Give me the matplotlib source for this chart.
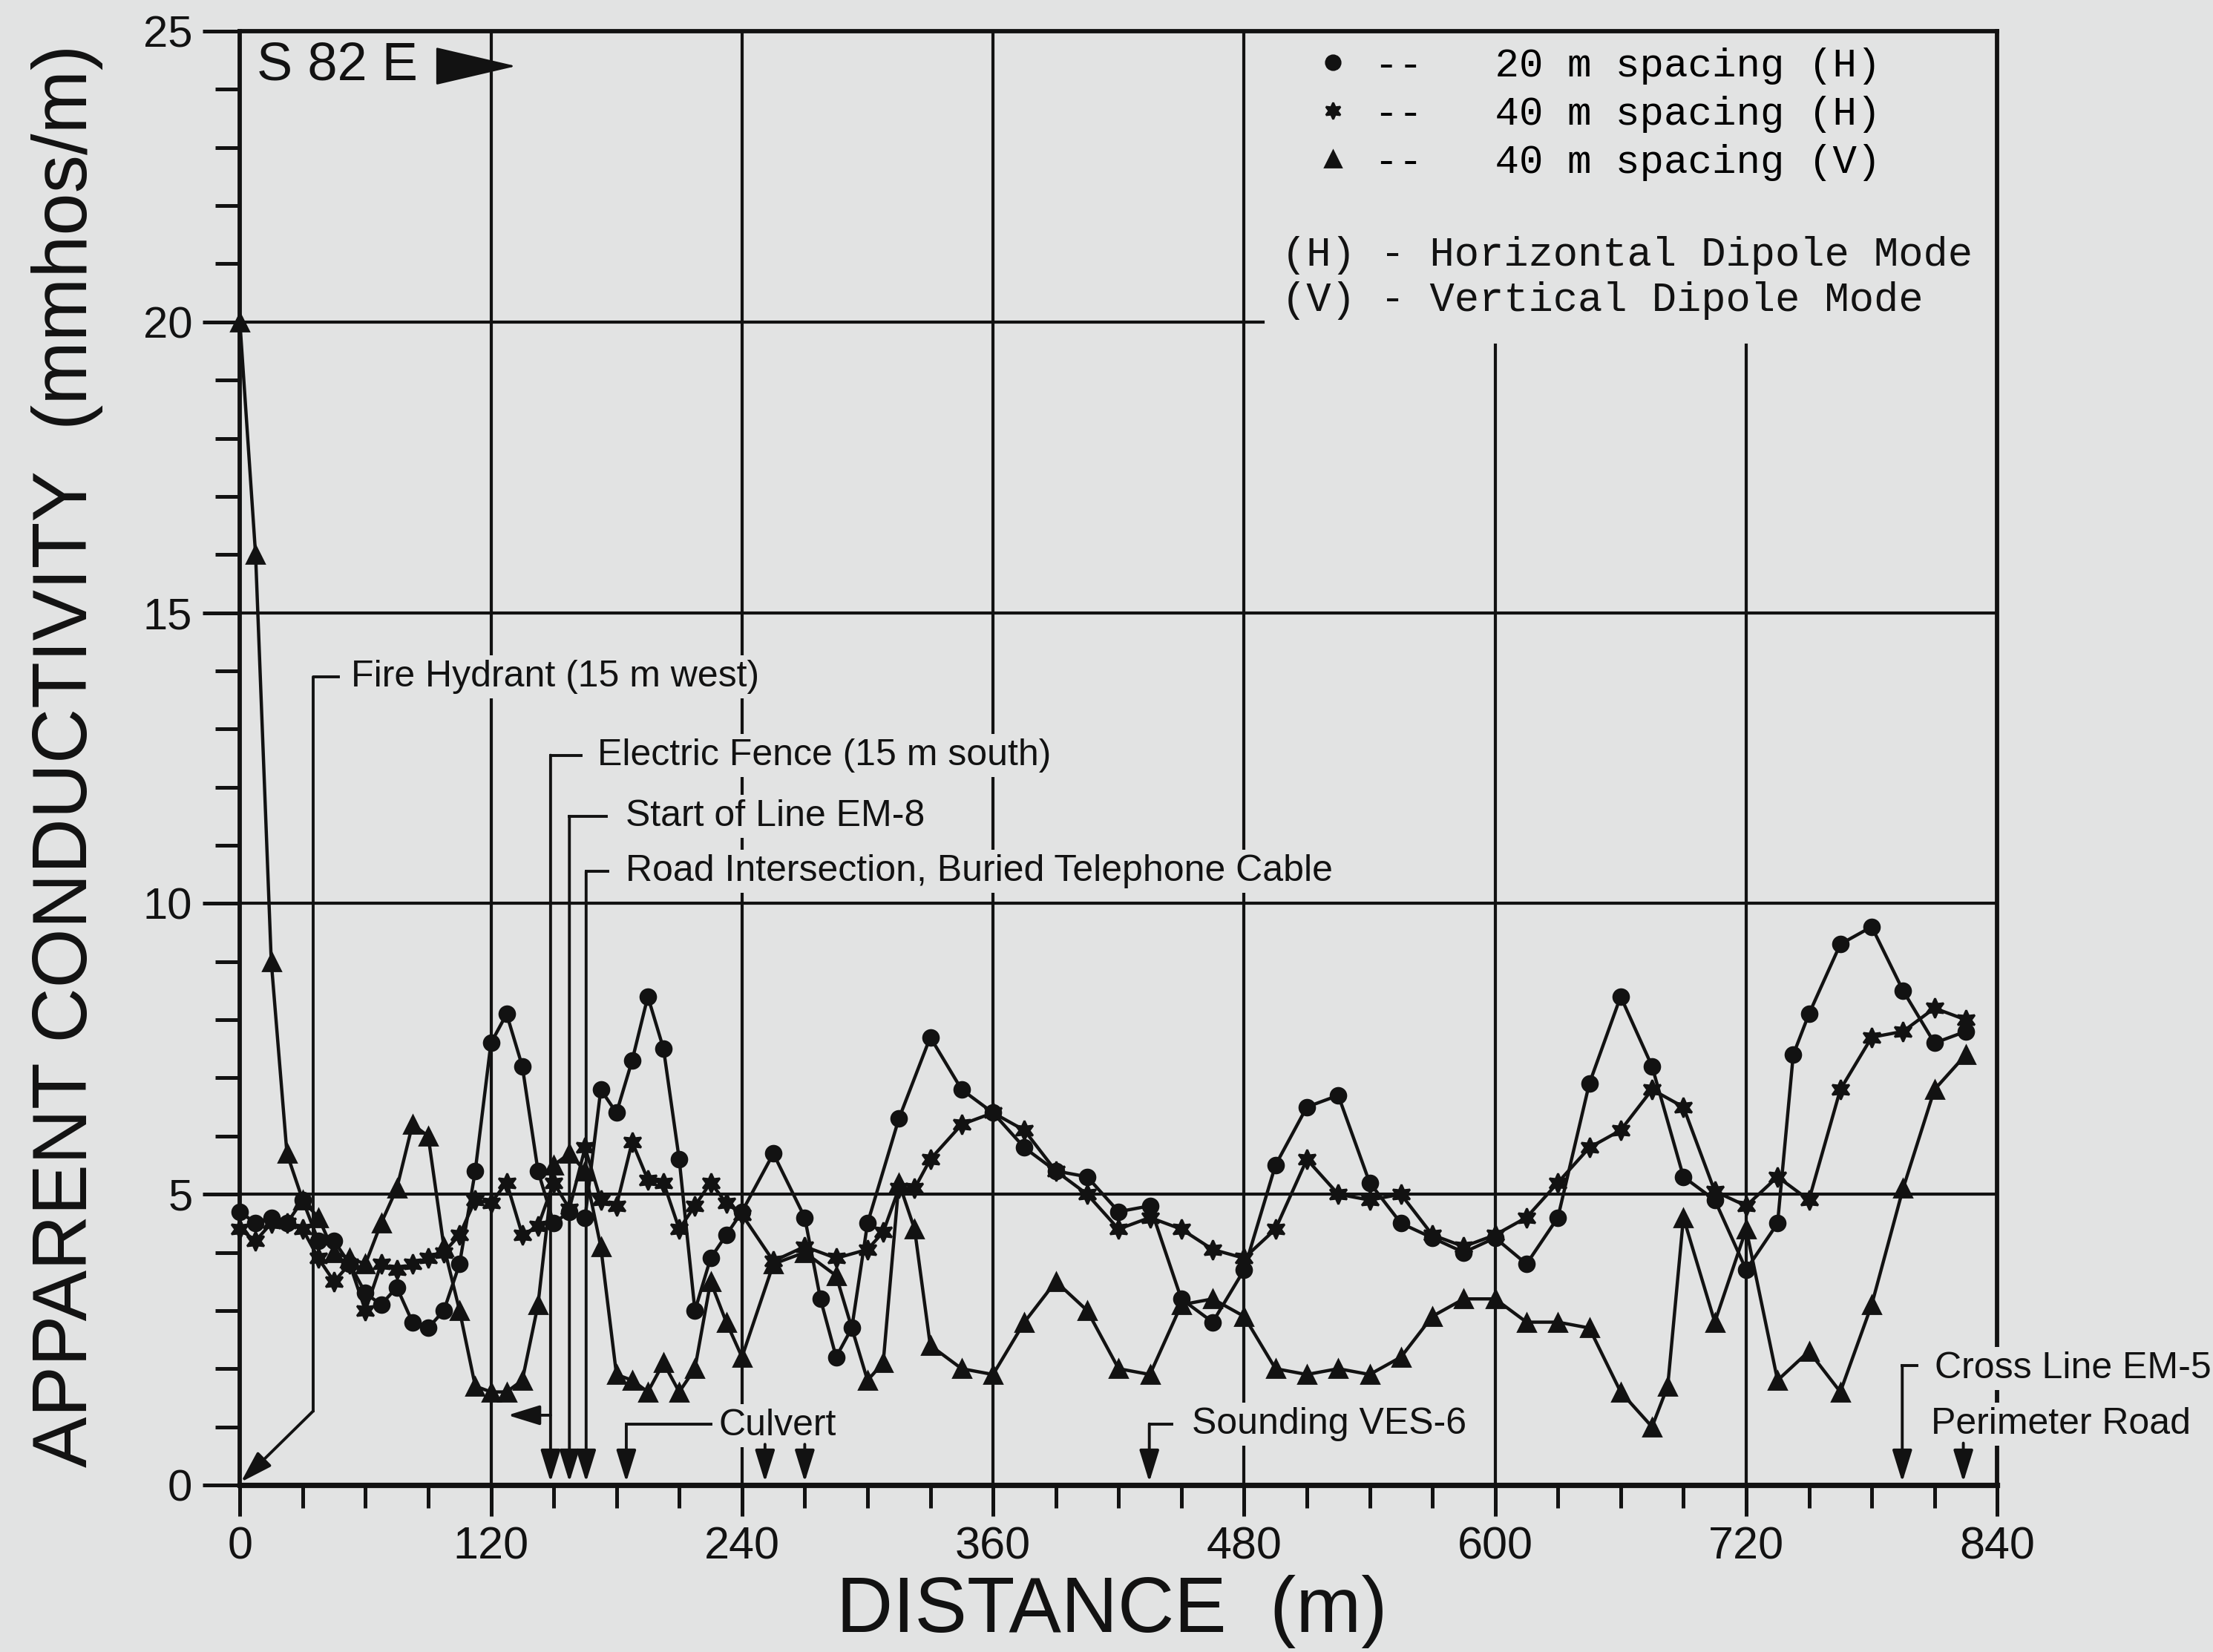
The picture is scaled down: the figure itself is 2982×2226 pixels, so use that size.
import matplotlib.pyplot as plt
from matplotlib.lines import Line2D
from matplotlib.ticker import MultipleLocator

# Perfil EM: distancia (m) y conductividad aparente (mmhos/m)
dist_base = [0, 7.5, 15, 22.5, 30, 37.5, 45, 52.5, 60, 67.5, 75, 82.5, 90, 97.5,
             105, 112.5, 120, 127.5, 135, 142.5, 150, 157.5, 165, 172.5, 180,
             187.5, 195, 202.5, 210, 217.5, 225, 232.5, 240]

# 20 m spacing (H)
dist_20h = dist_base + [255, 270, 277.5, 285, 292.5, 300, 315, 330, 345, 360,
                        375, 390, 405, 420, 435, 450, 465, 480, 495, 510, 525,
                        540, 555, 570, 585, 600, 615, 630, 645, 660, 675, 690,
                        705, 720, 735, 742.5, 750, 765, 780, 795, 810, 825]
cond_20h = [4.7, 4.5, 4.6, 4.5, 4.9, 4.2, 4.2, 3.8, 3.3, 3.1, 3.4, 2.8, 2.7, 3.0,
            3.8, 5.4, 7.6, 8.1, 7.2, 5.4, 4.5, 4.7, 4.6, 6.8, 6.4,
            7.3, 8.4, 7.5, 5.6, 3.0, 3.9, 4.3, 4.7,
            5.7, 4.6, 3.2, 2.2, 2.7, 4.5, 6.3, 7.7, 6.8, 6.4,
            5.8, 5.4, 5.3, 4.7, 4.8, 3.2, 2.8, 3.7, 5.5, 6.5, 6.7,
            5.2, 4.5, 4.25, 4.0, 4.25, 3.8, 4.6, 6.9, 8.4, 7.2, 5.3,
            4.9, 3.7, 4.5, 7.4, 8.1, 9.3, 9.6, 8.5, 7.6, 7.8]

# 40 m spacing (H)
dist_40h = dist_base + [255, 270, 285, 300, 307.5, 315, 322.5, 330, 345, 360,
                        375, 390, 405, 420, 435, 450, 465, 480,
                        495, 510, 525, 540, 555, 570, 585, 600, 615, 630, 645,
                        660, 675, 690, 705, 720,
                        735, 750, 765, 780, 795, 810, 825]
cond_40h = [4.4, 4.2, 4.5, 4.5, 4.4, 3.9, 3.5, 3.8, 3.0, 3.8, 3.7, 3.8, 3.9, 4.0,
            4.3, 4.9, 4.85, 5.2, 4.3, 4.45, 5.2, 4.75, 5.8, 4.9, 4.8,
            5.9, 5.25, 5.2, 4.4, 4.8, 5.2, 4.85, 4.65,
            3.85, 4.1, 3.9, 4.05, 4.35, 5.1, 5.1, 5.6, 6.2, 6.4,
            6.1, 5.4, 5.0, 4.4, 4.6, 4.4, 4.05, 3.9,
            4.4, 5.6, 5.0, 4.9, 5.0, 4.3, 4.1, 4.3, 4.6, 5.2, 5.8,
            6.1, 6.8, 6.5, 5.05, 4.8,
            5.3, 4.9, 6.8, 7.7, 7.8, 8.2, 8.0]

# 40 m spacing (V)
dist_40v = dist_base + [255, 270, 285, 300, 307.5, 315, 322.5, 330, 345, 360,
                        375, 390, 405, 420, 435, 450, 465, 480,
                        495, 510, 525, 540, 555, 570, 585, 600, 615, 630, 645, 660,
                        675, 682.5, 690, 705, 720,
                        735, 750, 765, 780, 795, 810, 825]
cond_40v = [20.0, 16.0, 9.0, 5.7, 4.9, 4.6, 4.0, 3.9, 3.8, 4.5, 5.1, 6.2, 6.0, 4.1,
            3.0, 1.7, 1.6, 1.6, 1.8, 3.1, 5.5, 5.7, 5.4, 4.1, 1.9,
            1.8, 1.6, 2.1, 1.6, 2.0, 3.5, 2.8, 2.2,
            3.8, 4.0, 3.6, 1.8, 2.1, 5.2, 4.4, 2.4, 2.0, 1.9,
            2.8, 3.5, 3.0, 2.0, 1.9, 3.1, 3.2, 2.9,
            2.0, 1.9, 2.0, 1.9, 2.2, 2.9, 3.2, 3.2, 2.8, 2.8, 2.7, 1.6,
            1.0, 1.7, 4.6, 2.8, 4.4,
            1.8, 2.3, 1.6, 3.1, 5.1, 6.8, 7.4]

x_ticks = [0, 120, 240, 360, 480, 600, 720, 840]
y_ticks = [0, 5, 10, 15, 20, 25]

# Rotulos del perfil: texto, x, y
notas = [
    ("Fire Hydrant (15 m west)", 53, 13.9),
    ("Electric Fence (15 m south)", 171, 12.55),
    ("Start of Line EM-8", 184.5, 11.5),
    ("Road Intersection, Buried Telephone Cable", 184.5, 10.55),
    ("Culvert", 229, 1.02),
    ("Sounding VES-6", 455, 1.05),
    ("Cross Line EM-5", 810, 2.0),
    ("Perimeter Road", 808.5, 1.04),
]

# Lineas guia (el ultimo punto es la punta de la flecha)
guias = [
    [(47, 13.9), (35, 13.9), (35, 1.27), (0.5, 0.05)],
    [(163, 12.55), (148.5, 12.55), (148.5, 0.05)],
    [(175, 11.5), (157.5, 11.5), (157.5, 0.05)],
    [(176, 10.55), (165.5, 10.55), (165.5, 0.05)],
    [(148.5, 1.2), (128, 1.2)],
    [(225, 1.04), (184.7, 1.04), (184.7, 0.05)],
    [(251, 0.7), (251, 0.05)],
    [(270, 0.7), (270, 0.05)],
    [(445.5, 1.05), (434.7, 1.05), (434.7, 0.05)],
    [(801.5, 2.05), (794.6, 2.05), (794.6, 0.05)],
    [(823.8, 0.72), (823.8, 0.05)],
]

BG = "#e2e3e3"
INK = "#121212"

plt.rcParams["font.family"] = ["Liberation Sans", "DejaVu Sans"]


def flecha(ax, puntos):
    xs = [p[0] for p in puntos]
    ys = [p[1] for p in puntos]
    if len(puntos) > 2:
        ax.plot(xs[:-1], ys[:-1], color=INK, lw=1.4, zorder=4, clip_on=False)
    ax.annotate("", xy=puntos[-1], xytext=puntos[-2],
                arrowprops=dict(arrowstyle="-|>,head_length=1.1,head_width=0.34",
                                color=INK, lw=1.4, shrinkA=0, shrinkB=0,
                                mutation_scale=12),
                zorder=4, annotation_clip=False)


fig = plt.figure(figsize=(14.91, 11.13), dpi=200, facecolor=BG)
ax = fig.add_axes([0.1084, 0.1011, 0.7941, 0.88], facecolor=BG)
ax.set_xlim(0, 840)
ax.set_ylim(0, 25)

# reticula (algunas lineas se cortan bajo la leyenda)
for x in x_ticks[1:5]:
    ax.axvline(x, color=INK, lw=1.5, zorder=1)
for x in x_ticks[5:7]:
    ax.axvline(x, ymax=19.6 / 25, color=INK, lw=1.5, zorder=1)
for y in y_ticks[1:4]:
    ax.axhline(y, color=INK, lw=1.5, zorder=1)
ax.axhline(20, xmax=489 / 840, color=INK, lw=1.5, zorder=1)

ax.plot(dist_20h, cond_20h, color=INK, lw=1.6, marker="o", ms=7.5, zorder=5, clip_on=False)
ax.plot(dist_40h, cond_40h, color=INK, lw=1.6, marker=(6, 1, 0), ms=9.5, zorder=5, clip_on=False)
ax.plot(dist_40v, cond_40v, color=INK, lw=1.6, marker="^", ms=8.5, zorder=5, clip_on=False)

for texto, x, y in notas:
    ax.text(x, y, texto, fontsize=18, color=INK, ha="left", va="center", zorder=3.5,
            bbox=dict(boxstyle="square,pad=0.12", fc=BG, ec="none"))
for g in guias:
    flecha(ax, g)

# direccion del perfil
ax.text(8, 24.4, "S 82 E", fontsize=26, color=INK, va="center")
ax.annotate("", xy=(132, 24.4), xytext=(97, 24.4),
            arrowprops=dict(arrowstyle="-|>,head_length=3.0,head_width=0.7",
                            color=INK, lw=1.0, shrinkA=0, shrinkB=0, mutation_scale=12))

# leyenda
handles = [Line2D([], [], ls="none", marker="o", color=INK, ms=7),
           Line2D([], [], ls="none", marker=(6, 1, 0), color=INK, ms=8),
           Line2D([], [], ls="none", marker="^", color=INK, ms=8)]
etiquetas = ["--   20 m spacing (H)", "--   40 m spacing (H)", "--   40 m spacing (V)"]
ax.legend(handles, etiquetas, loc="upper left", bbox_to_anchor=(0.6106, 0.989),
          frameon=False, prop={"family": "Liberation Mono", "size": 19.5},
          handlelength=1.0, handletextpad=0.53, labelspacing=0.28,
          borderpad=0, borderaxespad=0, numpoints=1)
ax.text(0.593, 0.8458, "(H) - Horizontal Dipole Mode", transform=ax.transAxes,
        family="Liberation Mono", fontsize=20, color=INK, va="center")
ax.text(0.593, 0.8147, "(V) - Vertical Dipole Mode", transform=ax.transAxes,
        family="Liberation Mono", fontsize=20, color=INK, va="center")

# ejes
ax.set_xticks(x_ticks)
ax.set_yticks(y_ticks)
ax.xaxis.set_minor_locator(MultipleLocator(30))
ax.yaxis.set_minor_locator(MultipleLocator(1))
ax.tick_params(axis="x", which="major", direction="out", length=15, width=1.8,
               pad=5, labelsize=22, colors=INK)
ax.tick_params(axis="x", which="minor", direction="out", length=11, width=1.8, colors=INK)
ax.tick_params(axis="y", which="major", direction="out", length=18, width=1.8,
               pad=5, labelsize=21.5, colors=INK)
ax.tick_params(axis="y", which="minor", direction="out", length=12, width=1.8, colors=INK)
for lado in ax.spines.values():
    lado.set_linewidth(2.1)
    lado.set_color(INK)
ax.spines["bottom"].set_linewidth(2.6)

ax.set_xlabel("DISTANCE  (m)", fontsize=38, color=INK)
ax.xaxis.set_label_coords(0.496, -0.0873)
ax.xaxis.label.set_va("center")
ax.set_ylabel("APPARENT CONDUCTIVITY  (mmhos/m)", fontsize=37, color=INK)
ax.yaxis.set_label_coords(-0.0981, 0.5018)
ax.yaxis.label.set_va("center")

fig.savefig("out.png", dpi=200, facecolor=BG)
